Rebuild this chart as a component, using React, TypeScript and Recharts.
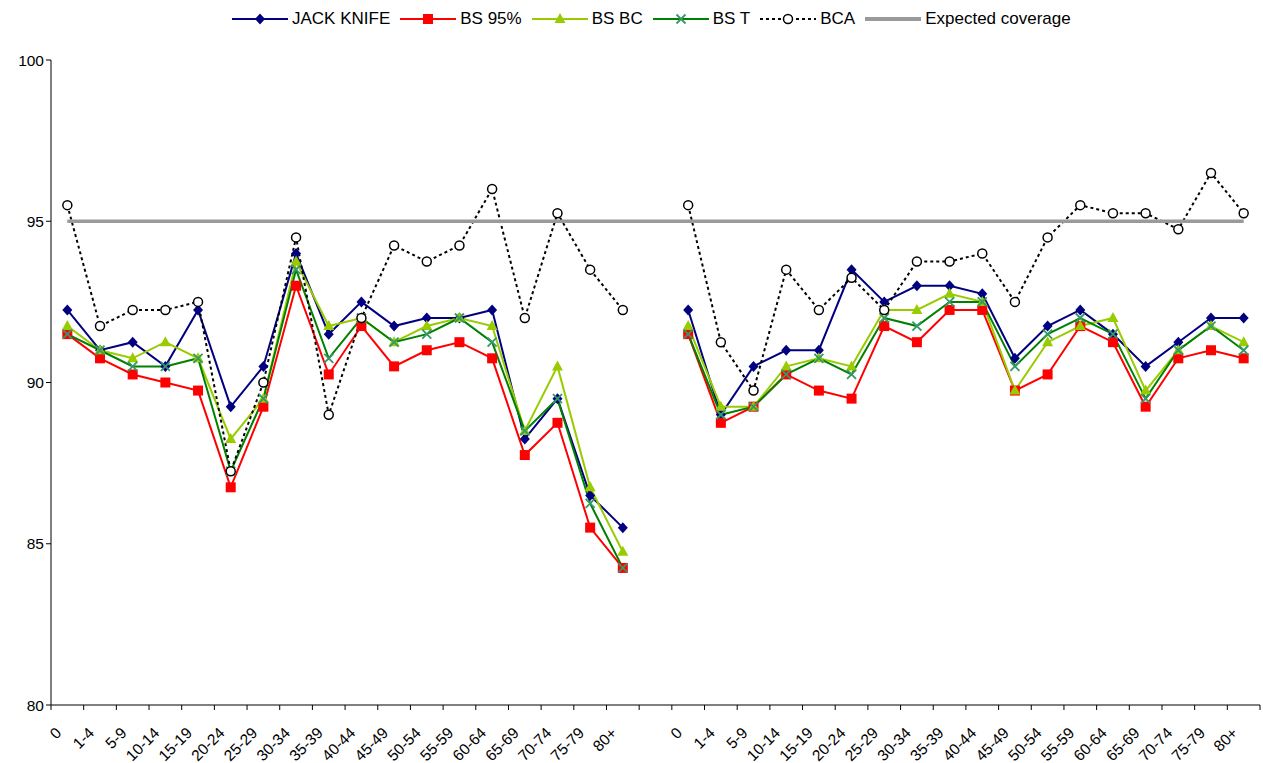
import React from 'react';
import { LineChart, Line, XAxis, YAxis, Legend } from 'recharts';

// age bands, repeated for the two panels
const ageBands = ['0', '1-4', '5-9', '10-14', '15-19', '20-24', '25-29', '30-34', '35-39', '40-44',
  '45-49', '50-54', '55-59', '60-64', '65-69', '70-74', '75-79', '80+'];

// left panel
const jackKnifeA = [92.25, 91.0, 91.25, 90.5, 92.25, 89.25, 90.5, 94.0, 91.5, 92.5, 91.75, 92.0, 92.0, 92.25, 88.25, 89.5, 86.5, 85.5];
const bs95A = [91.5, 90.75, 90.25, 90.0, 89.75, 86.75, 89.25, 93.0, 90.25, 91.75, 90.5, 91.0, 91.25, 90.75, 87.75, 88.75, 85.5, 84.25];
const bsBcA = [91.75, 91.0, 90.75, 91.25, 90.75, 88.25, 89.5, 93.75, 91.75, 92.0, 91.25, 91.75, 92.0, 91.75, 88.5, 90.5, 86.75, 84.75];
const bsTA = [91.5, 91.0, 90.5, 90.5, 90.75, 87.25, 89.5, 93.5, 90.75, 92.0, 91.25, 91.5, 92.0, 91.25, 88.5, 89.5, 86.25, 84.25];
const bcaA = [95.5, 91.75, 92.25, 92.25, 92.5, 87.25, 90.0, 94.5, 89.0, 92.0, 94.25, 93.75, 94.25, 96.0, 92.0, 95.25, 93.5, 92.25];

// right panel
const jackKnifeB = [92.25, 89.0, 90.5, 91.0, 91.0, 93.5, 92.5, 93.0, 93.0, 92.75, 90.75, 91.75, 92.25, 91.5, 90.5, 91.25, 92.0, 92.0];
const bs95B = [91.5, 88.75, 89.25, 90.25, 89.75, 89.5, 91.75, 91.25, 92.25, 92.25, 89.75, 90.25, 91.75, 91.25, 89.25, 90.75, 91.0, 90.75];
const bsBcB = [91.75, 89.25, 89.25, 90.5, 90.75, 90.5, 92.25, 92.25, 92.75, 92.5, 89.75, 91.25, 91.75, 92.0, 89.75, 91.0, 91.75, 91.25];
const bsTB = [91.5, 89.0, 89.25, 90.25, 90.75, 90.25, 92.0, 91.75, 92.5, 92.5, 90.5, 91.5, 92.0, 91.5, 89.5, 91.0, 91.75, 91.0];
const bcaB = [95.5, 91.25, 89.75, 93.5, 92.25, 93.25, 92.25, 93.75, 93.75, 94.0, 92.5, 94.5, 95.5, 95.25, 95.25, 94.75, 96.5, 95.25];

const expectedCoverage = 95;
const yTicks = [80, 85, 90, 95, 100];

const panelRows = (jk: number[], b95: number[], bc: number[], bt: number[], bca: number[]) =>
  ageBands.map((age, i) => ({ age, jk: jk[i], bs95: b95[i], bsbc: bc[i], bst: bt[i], bca: bca[i], expected: expectedCoverage }));

const data = [
  ...panelRows(jackKnifeA, bs95A, bsBcA, bsTA, bcaA),
  { age: '', expected: expectedCoverage },
  ...panelRows(jackKnifeB, bs95B, bsBcB, bsTB, bcaB),
];

const W = 1263;
const H = 763;
const PLOT_LEFT = 51;
const PLOT_RIGHT = 1260;
const BAND = (PLOT_RIGHT - PLOT_LEFT) / data.length;
const FONT = '"Liberation Sans", Arial, sans-serif';

type Shape = 'diamond' | 'square' | 'triangle' | 'cross' | 'circle' | 'none';

const series: { key: string; name: string; color: string; width: number; dash?: string; shape: Shape; markColor?: string }[] = [
  { key: 'jk', name: 'JACK KNIFE', color: '#000080', width: 2, shape: 'diamond' },
  { key: 'bs95', name: 'BS 95%', color: '#FF0000', width: 2, shape: 'square' },
  { key: 'bsbc', name: 'BS BC', color: '#99CC00', width: 2, shape: 'triangle' },
  { key: 'bst', name: 'BS T', color: '#008000', width: 2, shape: 'cross', markColor: '#339966' },
  { key: 'bca', name: 'BCA', color: '#000000', width: 2, dash: '3 3', shape: 'circle' },
  { key: 'expected', name: 'Expected coverage', color: '#9A9A9A', width: 3.5, shape: 'none' },
];

const Marker = ({ shape, cx, cy, color }: { shape: Shape; cx: number; cy: number; color: string }) => {
  switch (shape) {
    case 'diamond':
      return <path d={`M${cx},${cy - 5.5}L${cx + 5},${cy}L${cx},${cy + 5.5}L${cx - 5},${cy}Z`} fill={color} />;
    case 'square':
      return <rect x={cx - 5} y={cy - 5} width={10} height={10} fill={color} />;
    case 'triangle':
      return <path d={`M${cx},${cy - 6}L${cx + 5.5},${cy + 4}L${cx - 5.5},${cy + 4}Z`} fill={color} />;
    case 'cross':
      return <path d={`M${cx - 4.5},${cy - 4.5}L${cx + 4.5},${cy + 4.5}M${cx + 4.5},${cy - 4.5}L${cx - 4.5},${cy + 4.5}`} stroke={color} strokeWidth={1.8} fill="none" />;
    case 'circle':
      return <circle cx={cx} cy={cy} r={4.5} fill="#fff" stroke={color} strokeWidth={1.5} />;
    default:
      return null;
  }
};

const makeDot = (s: typeof series[number]) => (p: any) => {
  const k = `${s.key}-${p.index}`;
  if (p.value == null || p.cy == null || isNaN(p.cy)) return <g key={k} />;
  return (
    <g key={k}>
      <Marker shape={s.shape} cx={p.cx} cy={p.cy} color={s.markColor || s.color} />
    </g>
  );
};

const AgeTick = (props: any) => {
  const { x, y, payload, index } = props;
  const half = BAND / 2;
  const tx = x - 5;
  const ty = y + 29;
  return (
    <g>
      <line x1={x - half} y1={y} x2={x - half} y2={y + 5} stroke="#000" />
      {index === data.length - 1 && <line x1={x + half} y1={y} x2={x + half} y2={y + 5} stroke="#000" />}
      <text x={tx} y={ty} textAnchor="end" fontSize={15.5} fill="#000" transform={`rotate(-45, ${tx}, ${ty})`}>
        {payload.value}
      </text>
    </g>
  );
};

const LegendContent = () => (
  <div style={{ height: 60, width: W, boxSizing: 'border-box', paddingLeft: 232, paddingTop: 9, fontFamily: FONT }}>
    <div style={{ display: 'flex', alignItems: 'center', height: 20, fontSize: 17, color: '#000' }}>
      {series.map((s) => (
        <div key={s.key} style={{ display: 'flex', alignItems: 'center', marginRight: 10 }}>
          <svg width={56} height={20}>
            <line x1={0} y1={10} x2={56} y2={10} stroke={s.color} strokeWidth={s.key === 'expected' ? 4 : 2} strokeDasharray={s.dash} />
            <Marker shape={s.shape} cx={28} cy={10} color={s.markColor || s.color} />
          </svg>
          <span style={{ marginLeft: 4, whiteSpace: 'nowrap' }}>{s.name}</span>
        </div>
      ))}
    </div>
  </div>
);

export default function App() {
  return (
    <div style={{ position: 'absolute', left: 0, top: 0, width: W, height: H, fontFamily: FONT, background: '#fff' }}>
      <LineChart width={W} height={H} data={data} margin={{ top: 0, right: W - PLOT_RIGHT, left: 0, bottom: 0 }}>
        <Legend verticalAlign="top" align="left" content={<LegendContent />} wrapperStyle={{ top: 0, left: 0, width: W, height: 60 }} />
        <XAxis
          dataKey="age"
          interval={0}
          height={58}
          padding={{ left: BAND / 2, right: BAND / 2 }}
          tickLine={false}
          tickSize={0}
          tickMargin={0}
          tick={<AgeTick />}
          axisLine={{ stroke: '#000' }}
        />
        <YAxis
          width={PLOT_LEFT}
          domain={[80, 100]}
          ticks={yTicks}
          tickSize={5}
          tickLine={{ stroke: '#000' }}
          axisLine={{ stroke: '#000' }}
          tick={{ fill: '#000', fontSize: 15.5 }}
          allowDataOverflow
        />
        {series.map((s) => (
          <Line
            key={s.key}
            dataKey={s.key}
            name={s.name}
            type="linear"
            stroke={s.color}
            strokeWidth={s.width}
            strokeDasharray={s.dash}
            dot={s.shape === 'none' ? false : makeDot(s)}
            activeDot={false}
            isAnimationActive={false}
          />
        ))}
      </LineChart>
    </div>
  );
}
